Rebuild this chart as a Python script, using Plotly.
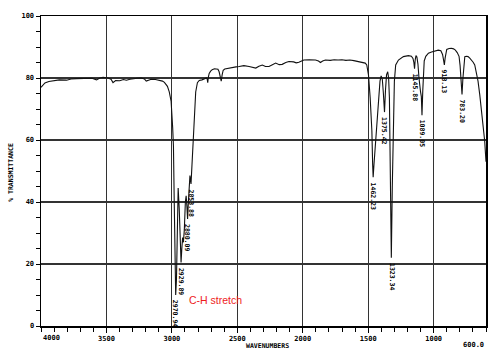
import plotly.graph_objects as go

# IR spectrum
wavenumber = [
    4000, 3992, 3970, 3940, 3906, 3860, 3805, 3770, 3728, 3690, 3652, 3610, 3576,
    3550, 3526, 3488, 3465, 3450, 3430, 3399, 3370, 3348, 3320, 3298, 3265, 3234,
    3210, 3196, 3178, 3158, 3125, 3095, 3072, 3057, 3045, 3034, 3020, 3006, 2994,
    2988, 2982, 2976, 2970.94, 2965, 2959, 2952, 2944, 2936, 2929.89, 2924, 2918,
    2912, 2905, 2897, 2891, 2885, 2880.09, 2874, 2868, 2862, 2853.88, 2847, 2840,
    2830, 2818, 2805, 2791, 2770, 2753, 2736, 2730, 2726, 2721, 2715, 2704, 2692,
    2675, 2661, 2648, 2639, 2631, 2623, 2616, 2608, 2596, 2585, 2560, 2540, 2510,
    2486, 2450, 2410, 2385, 2359, 2335, 2309, 2285, 2258, 2232, 2207, 2180, 2157,
    2130, 2106, 2070, 2050, 2030, 2010, 1992, 1950, 1903, 1880, 1865, 1848, 1827,
    1790, 1760, 1730, 1701, 1670, 1640, 1610, 1574, 1545, 1523, 1511, 1498, 1485,
    1472, 1466, 1462.23, 1456, 1446, 1435, 1422, 1410, 1401, 1392, 1384, 1375.42,
    1368, 1360, 1351, 1344, 1338, 1333, 1328, 1323.34, 1316, 1307, 1300, 1290,
    1269, 1231, 1193, 1170, 1158, 1151, 1145.88, 1141, 1135, 1128, 1120, 1112,
    1107, 1100, 1094, 1089.05, 1083, 1078, 1072, 1060, 1040, 1016, 990, 965, 945,
    932, 925, 918.13, 912, 906, 900, 882, 864, 848, 834, 820, 806, 798, 790,
    783.2, 777, 770, 762, 750, 737, 724, 711, 698, 686, 673, 661, 648, 631, 620,
    610, 600,
]
transmittance = [
    77.0, 77.3, 78.4, 78.9, 79.1, 79.4, 79.3, 79.7, 79.8, 79.9, 80.0, 79.9, 79.4,
    80.0, 80.2, 80.0, 79.6, 78.5, 79.2, 79.1, 79.5, 79.3, 79.6, 79.8, 79.9, 80.0,
    79.7, 79.0, 79.4, 79.6, 79.5, 79.3, 79.0, 78.6, 78.0, 77.3, 75.5, 72.5, 64.0,
    58.0, 40.0, 22.0, 10.0, 15.0, 30.0, 44.5, 38.0, 28.0, 20.5, 25.0, 28.5, 27.0,
    31.0, 40.0, 42.0, 38.5, 34.5, 40.0, 47.5, 48.5, 45.8, 52.0, 60.0, 69.0, 75.5,
    78.5, 79.2, 79.4, 79.6, 80.0, 79.6, 78.5, 80.4, 81.5, 82.2, 82.7, 83.0, 83.0,
    82.8, 82.0, 80.5, 79.0, 81.0, 82.5, 82.9, 83.0, 83.3, 83.5, 83.6, 83.7, 84.0,
    83.7, 83.5, 83.2, 83.8, 84.2, 83.7, 83.7, 84.3, 84.8, 84.3, 84.4, 85.0, 85.3,
    85.2, 84.9, 85.1, 85.6, 85.8, 85.9, 85.8, 85.5, 85.0, 85.5, 85.8, 85.7, 85.9,
    85.8, 85.9, 85.7, 85.8, 85.6, 85.3, 85.1, 84.8, 84.2, 81.0, 73.6, 63.0, 52.0,
    48.0, 52.0, 58.0, 63.0, 73.6, 79.0, 80.7, 79.5, 75.0, 69.0, 76.0, 81.0, 82.0,
    80.0, 73.6, 57.6, 40.0, 22.0, 45.0, 66.0, 79.0, 84.2, 85.8, 86.9, 87.2, 87.0,
    86.3, 85.0, 83.0, 85.8, 87.2, 86.8, 84.5, 80.0, 77.0, 75.5, 74.0, 68.0, 76.0,
    82.0, 85.5, 87.0, 88.0, 88.4, 88.8, 89.0, 88.8, 87.6, 86.0, 84.2, 86.5, 88.2,
    89.2, 89.5, 89.6, 89.4, 89.0, 88.2, 87.0, 84.0, 79.0, 74.7, 79.5, 84.5, 86.9,
    87.0, 86.9, 86.4, 85.8, 85.1, 84.2, 82.0, 79.0, 74.7, 68.3, 63.5, 59.7, 53.0,
]

peak_wn = [2970.94, 2929.89, 2880.09, 2853.88, 1462.23, 1375.42, 1323.34,
           1145.88, 1089.05, 918.13, 783.2]
peak_t = [10.0, 20.5, 34.5, 45.8, 48.0, 69.0, 22.0, 83.0, 68.0, 84.2, 74.7]
peak_labels = ["2970.94", "2929.89", "2880.09", "2853.88", "1462.23", "1375.42",
               "1323.34", "1145.88", "1089.05", "918.13", "783.20"]

x_ticks = [3500, 3000, 2500, 2000, 1500, 1000]
x_tick_labels = ["3500", "3000", "2500", "2000", "1500", "1000"]
y_ticks = [0, 20, 40, 60, 80, 100]
y_tick_labels = ["0", "20", "40", "60", "80", "100"]

mono = "DejaVu Sans Mono"
tick_font = dict(family=mono, size=7, color="black", weight="bold")

fig = go.Figure()
fig.add_trace(go.Scatter(x=wavenumber, y=transmittance, mode="lines",
                         line=dict(color="#111111", width=1.1),
                         hoverinfo="skip", showlegend=False))

annotations = []
for wn, t, lab in zip(peak_wn, peak_t, peak_labels):
    annotations.append(dict(x=wn, y=t, xref="x", yref="y", text=lab,
                            showarrow=False, textangle=90, xanchor="center",
                            yanchor="top", yshift=-3,
                            font=dict(family=mono, size=6.5, color="black",
                                      weight="bold")))

annotations += [
    dict(x=4000, y=0, xref="x", yref="paper", text="4000", showarrow=False,
         xanchor="left", yanchor="top", yshift=-6, font=tick_font),
    dict(x=600, y=0, xref="x", yref="paper", text="600.0", showarrow=False,
         xanchor="right", yanchor="top", yshift=-13, font=tick_font),
    dict(x=0.508, y=0, xref="paper", yref="paper", text="WAVENUMBERS",
         showarrow=False, xanchor="center", yanchor="top", yshift=-14,
         font=dict(family=mono, size=6.5, color="black", weight="bold")),
    dict(x=-0.069, y=0.495, xref="paper", yref="paper", text="% TRANSMITTANCE",
         showarrow=False, textangle=-90, xanchor="center", yanchor="middle",
         font=dict(family=mono, size=6.5, color="black", weight="bold")),
    dict(x=2667, y=8.3, xref="x", yref="y", text="C-H stretch",
         showarrow=False, xanchor="center", yanchor="middle",
         font=dict(family="Liberation Sans", size=10.5, color="#ee1c1c")),
]

fig.update_layout(
    width=500, height=355,
    margin=dict(l=41, r=12, t=14, b=28),
    paper_bgcolor="white", plot_bgcolor="white",
    annotations=annotations,
    xaxis=dict(range=[4000, 600], tickvals=x_ticks, ticktext=x_tick_labels,
               ticks="outside", ticklen=5, tickcolor="black", tickwidth=1,
               tickfont=tick_font, showgrid=True, gridcolor="#333333",
               gridwidth=1.2, zeroline=False, showline=True, mirror=True,
               linecolor="black", linewidth=1.5,
               minor=dict(dtick=100, tick0=0, ticks="outside", ticklen=4,
                          tickcolor="black", showgrid=False)),
    yaxis=dict(range=[0, 100], tickvals=y_ticks, ticktext=y_tick_labels,
               ticks="outside", ticklen=4, tickcolor="black", tickwidth=1,
               tickfont=tick_font, showgrid=True, gridcolor="#333333",
               gridwidth=1.2, zeroline=False, showline=True, mirror=True,
               linecolor="black", linewidth=1.5,
               minor=dict(dtick=5, tick0=0, ticks="outside", ticklen=4,
                          tickcolor="black", showgrid=False)),
)

fig.write_html("out.html",
               config={"displayModeBar": False, "staticPlot": True},
               post_script="document.body.style.margin='0';"
                           "document.body.style.overflow='hidden';")
